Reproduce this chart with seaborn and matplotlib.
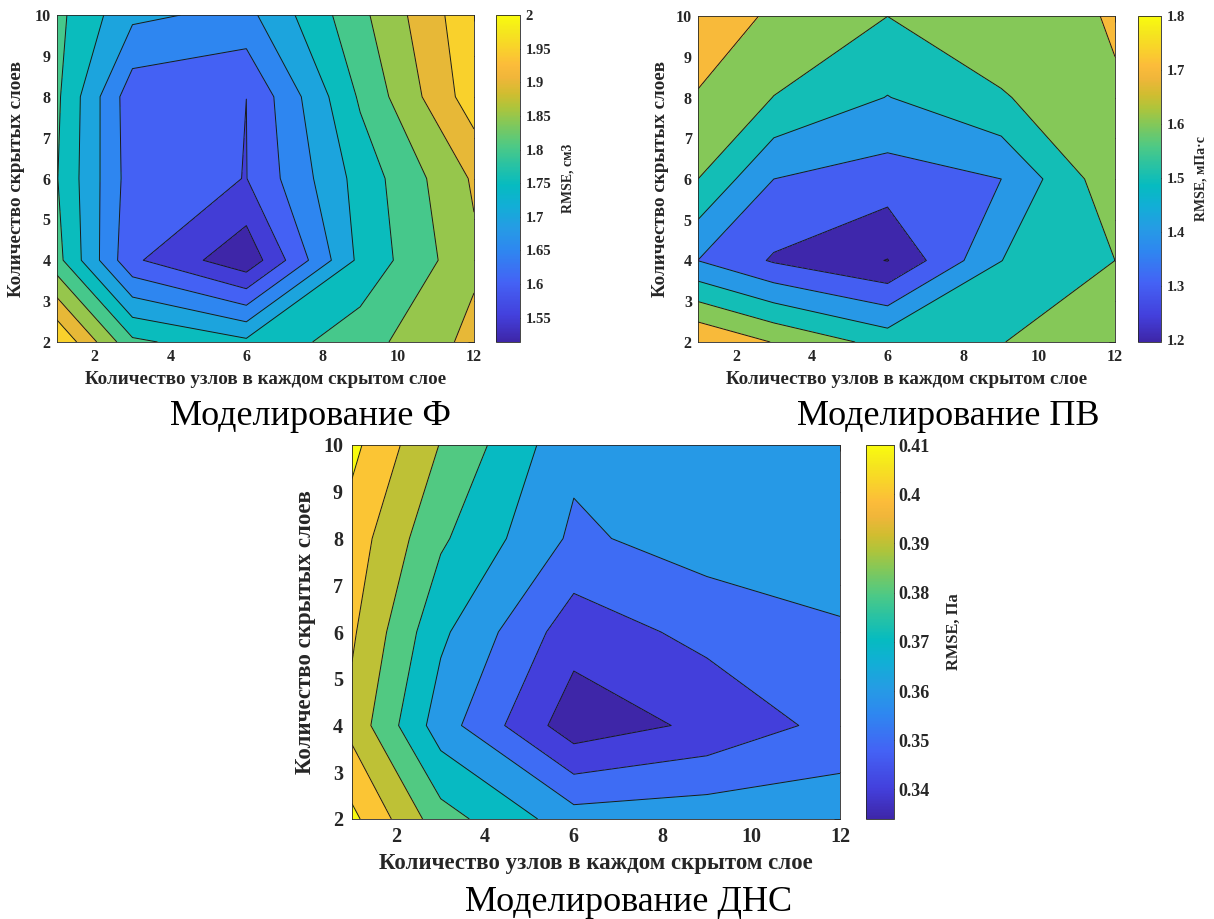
import numpy as np
import matplotlib
matplotlib.use("Agg")
import matplotlib.pyplot as plt
import seaborn as sns
from matplotlib.colors import LinearSegmentedColormap, Normalize
from matplotlib.cm import ScalarMappable

# сетка: узлы в слое (x) и число скрытых слоев (y)
nodes = [1, 3, 6, 9, 12]
layers = [2, 4, 6, 8, 10]

# RMSE, строки = число слоев (2,4,6,8,10), столбцы = узлы (1,3,6,9,12)
rmse_f = [
    [2.000, 1.811, 1.761, 1.828, 1.915],
    [1.818, 1.609, 1.514, 1.763, 1.890],
    [1.803, 1.623, 1.599, 1.770, 1.907],
    [1.810, 1.618, 1.60003, 1.807, 1.978],
    [1.814, 1.711, 1.685, 1.837, 1.989],
]
rmse_pv = [
    [1.798, 1.695, 1.562, 1.598, 1.650],
    [1.399, 1.289, 1.197, 1.499, 1.600],
    [1.600, 1.400, 1.354, 1.400, 1.673],
    [1.693, 1.598, 1.497, 1.590, 1.697],
    [1.760, 1.685, 1.6005, 1.680, 1.703],
]
rmse_dns = [
    [0.4126, 0.3842, 0.3647, 0.3663, 0.3662],
    [0.3968, 0.3648, 0.3340, 0.3422, 0.3535],
    [0.4015, 0.3720, 0.3443, 0.3530, 0.3595],
    [0.4054, 0.3816, 0.3581, 0.3648, 0.3625],
    [0.4126, 0.3895, 0.3625, 0.3640, 0.3650],
]

levels_f = [1.55, 1.6, 1.65, 1.7, 1.75, 1.8, 1.85, 1.9, 1.95]
levels_pv = [1.2, 1.3, 1.4, 1.5, 1.6, 1.7]
levels_dns = [0.34, 0.35, 0.36, 0.37, 0.38, 0.39, 0.40, 0.41]

cticks_f = [1.55, 1.6, 1.65, 1.7, 1.75, 1.8, 1.85, 1.9, 1.95, 2.0]
cticks_pv = [1.2, 1.3, 1.4, 1.5, 1.6, 1.7, 1.8]
cticks_dns = [0.34, 0.35, 0.36, 0.37, 0.38, 0.39, 0.40, 0.41]

xlabel = "Количество узлов в каждом скрытом слое"
ylabel = "Количество скрытых слоев"

sns.set_theme(style="white")
plt.rcParams["font.family"] = ["Liberation Serif", "DejaVu Serif"]

# parula-подобная палитра
parula = LinearSegmentedColormap.from_list("parula", [
    (0.00, "#3e26a8"), (0.08, "#4340dc"), (0.18, "#4462f5"),
    (0.28, "#2e87f0"), (0.35, "#259ce4"), (0.42, "#11afd5"),
    (0.48, "#06bbc0"), (0.55, "#2ec39f"), (0.60, "#4ec985"),
    (0.67, "#84c858"), (0.72, "#b0c43a"), (0.76, "#d0bd30"),
    (0.81, "#f0b63a"), (0.85, "#fcbc3a"), (0.90, "#f9d22b"),
    (0.95, "#f5e61e"), (1.00, "#f9fb0e"),
], N=256)

W, H = 1214, 919
fig = plt.figure(figsize=(W / 100, H / 100), dpi=100)


def rect(l, t, r, b):
    return [l / W, 1 - b / H, (r - l) / W, (b - t) / H]


def panel(box, cbox, z, levels, vmin, vmax, cticks, clabel, title, txy, ylab_x, xlab_y, clab_x, fs):
    z = np.array(z)
    X, Y = np.meshgrid(nodes, layers)
    l, t, r, b = box
    ax = fig.add_axes(rect(*box))
    bounds = [min(z.min(), vmin) - 1] + levels + [z.max() + 1]
    cols = [parula(0.0)] + [parula((lv - vmin) / (vmax - vmin)) for lv in levels]
    ax.contourf(X, Y, z, levels=bounds, colors=cols)
    ax.contour(X, Y, z, levels=levels, colors="k", linewidths=0.7)
    ax.set_xlim(1, 12)
    ax.set_ylim(2, 10)
    ax.set_xticks([2, 4, 6, 8, 10, 12])
    ax.set_yticks(range(2, 11))
    ax.tick_params(direction="in", top=True, right=True, length=4, width=0.6,
                   labelsize=fs["tick"], colors="#262626")
    ax.tick_params(axis="x", pad=fs["xpad"])
    ax.tick_params(axis="y", pad=fs["ypad"])
    for lab in ax.get_xticklabels() + ax.get_yticklabels():
        lab.set_fontweight("bold")
    for s in ax.spines.values():
        s.set_color("#262626")
        s.set_linewidth(0.6)
    ax.set_xlabel(xlabel, fontsize=fs["label"], fontweight="bold", color="#262626")
    ax.set_ylabel(ylabel, fontsize=fs["label"], fontweight="bold", color="#262626")
    ax.xaxis.label.set_va("center")
    ax.yaxis.label.set_va("center")
    ax.xaxis.set_label_coords(0.5, -(xlab_y - b) / (b - t))
    ax.yaxis.set_label_coords((ylab_x - l) / (r - l), 0.5)

    cax = fig.add_axes(rect(*cbox))
    sm = ScalarMappable(norm=Normalize(vmin, vmax), cmap=parula)
    cb = fig.colorbar(sm, cax=cax, ticks=cticks)
    cb.ax.set_yticklabels(["%g" % c for c in cticks])
    cb.ax.tick_params(direction="in", length=3, width=0.6, labelsize=fs["ctick"],
                      colors="#262626", pad=fs["cpad"])
    for lab in cb.ax.get_yticklabels():
        lab.set_fontweight("bold")
    cb.outline.set_linewidth(0.6)
    cb.outline.set_edgecolor("#262626")
    fig.text(clab_x / W, 1 - (t + b) / 2 / H, clabel, rotation=90, ha="center", va="center",
             fontsize=fs["clabel"], fontweight="bold", color="#262626")

    fig.text(txy[0] / W, 1 - txy[1] / H, title, ha="center", va="baseline",
             fontsize=fs["title"], color="black")


fs_top = {"tick": 11.5, "label": 13.7, "ctick": 10.5, "clabel": 10, "title": 26,
          "xpad": 5, "ypad": 4.5, "cpad": 4}
fs_bot = {"tick": 14.5, "label": 16.5, "ctick": 13, "clabel": 11.8, "title": 26,
          "xpad": 5.5, "ypad": 6.5, "cpad": 3}

panel((56.6, 15, 474, 342), (495.5, 15, 520, 342), rmse_f, levels_f, 1.514, 2.0,
      cticks_f, "RMSE, см3", "Моделирование Ф", (311, 425), 17, 379, 568, fs_top)
panel((698, 16, 1115, 342), (1138, 16, 1161, 342), rmse_pv, levels_pv, 1.197, 1.8,
      cticks_pv, "RMSE, мПа·с", "Моделирование ПВ", (948, 425), 660, 379, 1201, fs_top)
panel((352, 445, 840, 819), (866, 445, 894, 819), rmse_dns, levels_dns, 0.334, 0.41,
      cticks_dns, "RMSE, Па", "Моделирование ДНС", (629, 911), 305, 863, 954, fs_bot)

fig.savefig("out.png", dpi=100)
